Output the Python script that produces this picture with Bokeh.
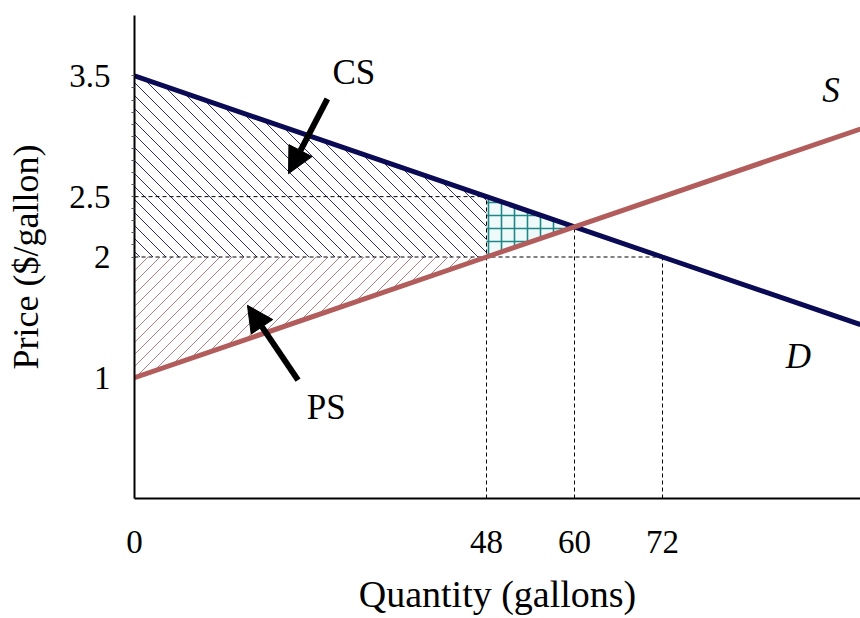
import math
import numpy as np
from bokeh.plotting import figure
from bokeh.models import FixedTicker, Label, Arrow, NormalHead, Range1d
from bokeh.embed import file_html
from bokeh.resources import INLINE

# ---- data ----
demand_q = [0, 48, 60, 72, 99]
demand_p = [3.5, 2.5, 2.25, 2.0, 1.44]
supply_q = [0, 48, 60, 99]
supply_p = [1.0, 2.0, 2.25, 3.06]

# surplus / deadweight areas
cs_q = [0, 48, 48, 0]
cs_p = [3.5, 2.5, 2.0, 2.0]
ps_q = [0, 48, 0]
ps_p = [2.0, 2.0, 1.0]
dwl_q = [48, 60, 48]
dwl_p = [2.5, 2.25, 2.0]

# reference (dashed) lines
h_lines_p = [2.5, 2.0]
h_lines_q_end = [48, 72]
v_lines_q = [48, 60, 72]
v_lines_p_end = [2.5, 2.25, 2.0]

x_ticks = [0, 48, 60, 72]
y_ticks = [1, 2, 2.5, 3.5]
y_tick_labels = {1: "1", 2: "2", 2.5: "2.5", 3.5: "3.5"}

FONT = "Liberation Serif"
DEM_COL = "#0a0a55"
SUP_COL = "#b25c5c"

W, H = 860, 618
BL, BR, BT, BB = 134, 0, 15, 120
X_MAX, Y_MAX = 99, 4

p = figure(width=W, height=H, output_backend="svg", toolbar_location=None,
           x_range=Range1d(0, X_MAX), y_range=Range1d(0, Y_MAX),
           min_border_left=BL, min_border_right=BR, min_border_top=BT,
           min_border_bottom=BB)
p.outline_line_color = None
p.xgrid.visible = False
p.ygrid.visible = False
p.background_fill_color = "white"

# px per data unit (for drawing 45-degree hatch lines)
KX = (W - BL - BR) / X_MAX
KY = (H - BT - BB) / Y_MAX


def hatch(qs, ps, d, spacing, offset=0.0):
    """45-degree hatch segments clipped to a convex polygon.
    d=+1 -> '/', d=-1 -> '\\'; spacing in pixels (horizontal)."""
    X = np.asarray(qs, float) * KX
    Y = np.asarray(ps, float) * KY
    u = Y - d * X
    c0 = math.ceil((u.min() - offset) / spacing) * spacing + offset
    x0s, y0s, x1s, y1s = [], [], [], []
    n = len(X)
    for c in np.arange(c0, u.max(), spacing):
        pts = []
        for i in range(n):
            j = (i + 1) % n
            fi, fj = u[i] - c, u[j] - c
            if fi == 0:
                pts.append((X[i], Y[i]))
            if fi * fj < 0:
                t = fi / (fi - fj)
                pts.append((X[i] + t * (X[j] - X[i]), Y[i] + t * (Y[j] - Y[i])))
        if len(pts) >= 2:
            pts.sort()
            (ax, ay), (bx, by) = pts[0], pts[-1]
            x0s.append(ax / KX); y0s.append(ay / KY)
            x1s.append(bx / KX); y1s.append(by / KY)
    return x0s, y0s, x1s, y1s


# hatched areas
cx0, cy0, cx1, cy1 = hatch(cs_q, cs_p, -1, 13)
p.segment(cx0, cy0, cx1, cy1, line_color="#2e2e72", line_width=1)
px0, py0, px1, py1 = hatch(ps_q, ps_p, +1, 12)
p.segment(px0, py0, px1, py1, line_color="#b08080", line_width=1)
p.patch(dwl_q, dwl_p, fill_color="#eefafa", fill_alpha=1, line_color=None,
        hatch_pattern="+", hatch_color="#1f8585", hatch_scale=13, hatch_weight=1.6)

# dashed guide lines
for yy, xe in zip(h_lines_p, h_lines_q_end):
    p.line([0, xe], [yy, yy], line_color="black", line_width=1, line_dash="4 3")
for xx, ye in zip(v_lines_q, v_lines_p_end):
    p.line([xx, xx], [0, ye], line_color="black", line_width=1, line_dash="4 3")

# curves
p.line(demand_q, demand_p, line_color=DEM_COL, line_width=5)
p.line(supply_q, supply_p, line_color=SUP_COL, line_width=5)

# axes
p.xaxis.ticker = FixedTicker(ticks=x_ticks)
p.yaxis.ticker = FixedTicker(ticks=y_ticks,
                             minor_ticks=list(np.round(np.arange(2.0, 3.51, 0.1), 2)))
p.yaxis.major_label_overrides = y_tick_labels
for ax in (p.xaxis, p.yaxis):
    ax.axis_line_color = "black"
    ax.axis_line_width = 2
    ax.major_tick_line_color = None
    ax.major_label_text_font = FONT
    ax.major_label_text_font_size = "33px"
    ax.major_label_text_color = "black"
    ax.axis_label_text_font = FONT
    ax.axis_label_text_font_style = "normal"
    ax.axis_label_text_color = "black"
p.xaxis.axis_label_text_font_size = "38px"
p.yaxis.axis_label_text_font_size = "36px"
p.xaxis.minor_tick_line_color = None
p.yaxis.minor_tick_line_color = "#555555"
p.yaxis.minor_tick_out = 3
p.yaxis.minor_tick_in = 0
p.xaxis.major_label_standoff = 26
p.yaxis.major_label_standoff = 18
p.xaxis.axis_label = "Quantity (gallons)"
p.yaxis.axis_label = "Price ($/gallon)"
p.xaxis.axis_label_standoff = 17
p.yaxis.axis_label_standoff = 20

# annotations
arrow_cs = ([26.3, 3.31], [21.0, 2.69])
arrow_ps = ([22.3, 0.98], [15.4, 1.60])
for (s, e) in (arrow_cs, arrow_ps):
    p.add_layout(Arrow(end=NormalHead(size=26, fill_color="black", line_color="black"),
                       x_start=s[0], y_start=s[1], x_end=e[0], y_end=e[1],
                       line_width=6, line_color="black"))

labels = [("CS", 27.0, 3.53, "normal"), ("PS", 23.5, 0.75, "normal"),
          ("S", 93.8, 3.38, "italic"), ("D", 88.8, 1.18, "italic")]
for txt, lx, ly, style in labels:
    p.add_layout(Label(x=lx, y=ly, text=txt, text_font=FONT, text_font_size="35px",
                       text_font_style=style, text_color="black",
                       text_baseline="alphabetic", text_align="left"))

open("out.html", "w").write(file_html(p, INLINE))
